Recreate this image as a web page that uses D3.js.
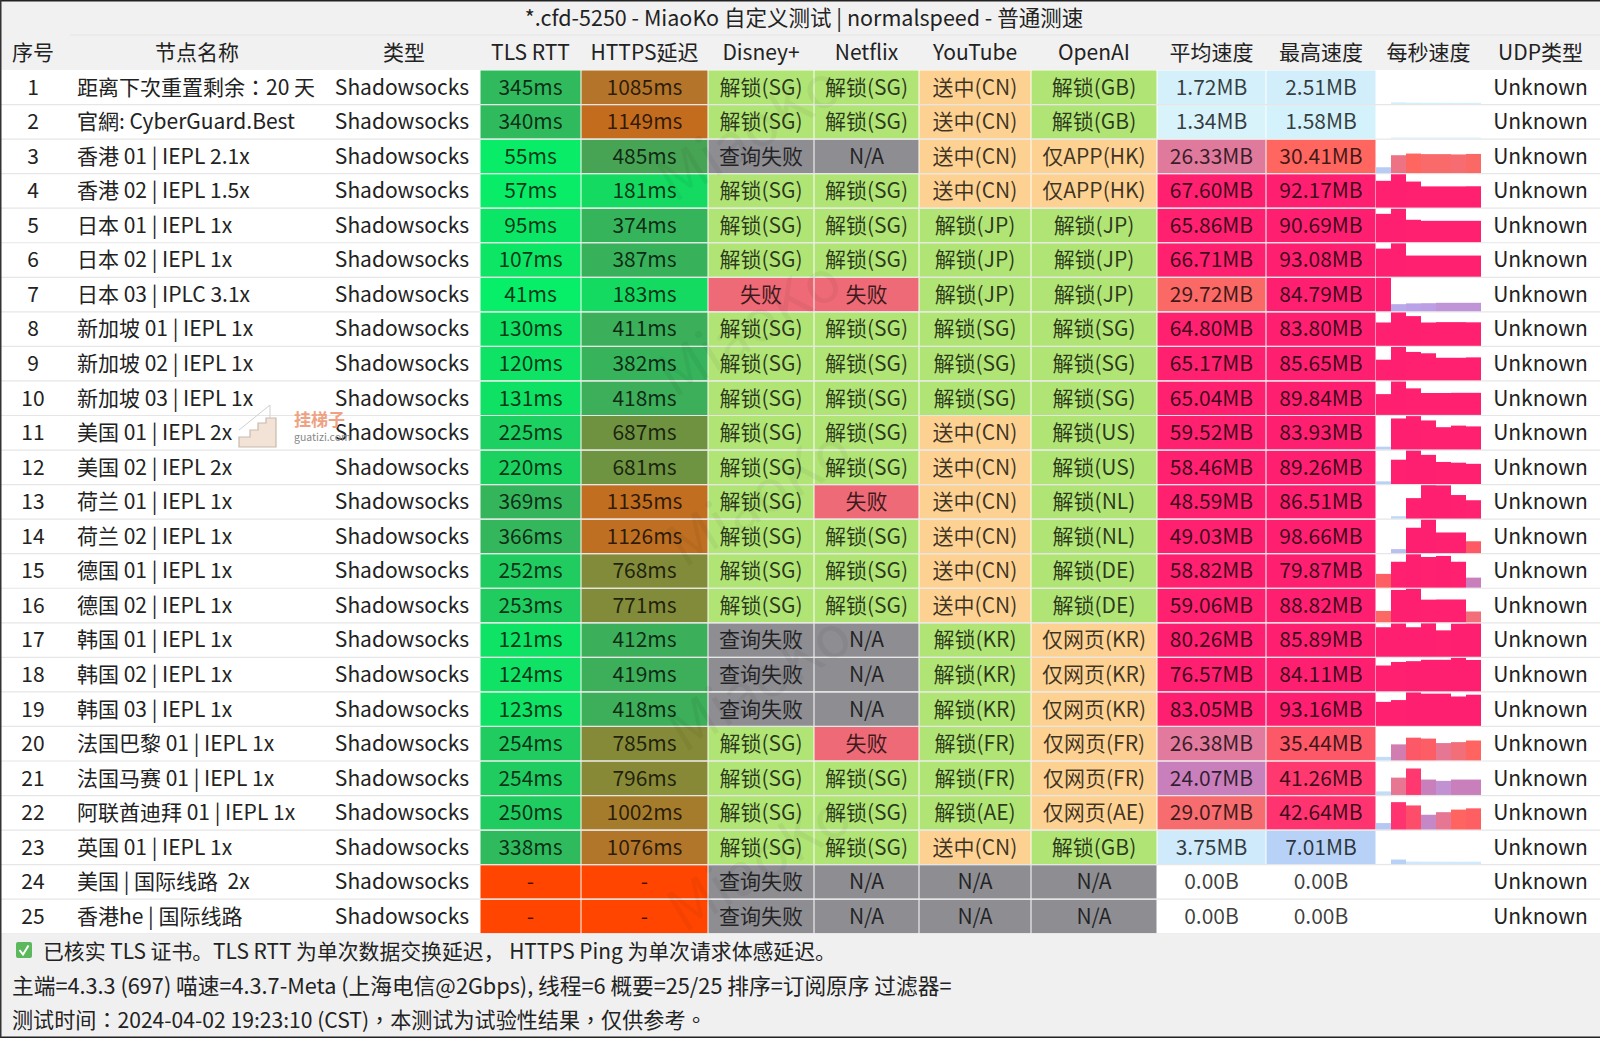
<!DOCTYPE html>
<html>
<head>
<meta charset="utf-8">
<script src="https://cdn.jsdelivr.net/npm/d3@7"></script>
<style>
    html, body { margin: 0; padding: 0; background: #fff; }
    svg { display: block; }
    text { font-family: "Noto Sans CJK SC", "Noto Sans", sans-serif; }
</style>
</head>
<body>
<div id="chart"></div>
<script>
var title = "*.cfd-5250 - MiaoKo 自定义测试 | normalspeed - 普通测速";
var headers = ["序号", "节点名称", "类型", "TLS RTT", "HTTPS延迟", "Disney+", "Netflix", "YouTube", "OpenAI", "平均速度", "最高速度", "每秒速度", "UDP类型"];
var nodeNames = ["距离下次重置剩余：20 天", "官網: CyberGuard.Best", "香港 01 | IEPL 2.1x", "香港 02 | IEPL 1.5x", "日本 01 | IEPL 1x",
    "日本 02 | IEPL 1x", "日本 03 | IPLC 3.1x", "新加坡 01 | IEPL 1x", "新加坡 02 | IEPL 1x", "新加坡 03 | IEPL 1x",
    "美国 01 | IEPL 2x", "美国 02 | IEPL 2x", "荷兰 01 | IEPL 1x", "荷兰 02 | IEPL 1x", "德国 01 | IEPL 1x",
    "德国 02 | IEPL 1x", "韩国 01 | IEPL 1x", "韩国 02 | IEPL 1x", "韩国 03 | IEPL 1x", "法国巴黎 01 | IEPL 1x",
    "法国马赛 01 | IEPL 1x", "阿联酋迪拜 01 | IEPL 1x", "英国 01 | IEPL 1x", "美国 | 国际线路  2x", "香港he | 国际线路"];
var nodeType = "Shadowsocks";
var udpType = "Unknown";
// null = test failed, printed as "-"
var tlsRtt = [345, 340, 55, 57, 95, 107, 41, 130, 120, 131, 225, 220, 369, 366, 252, 253, 121, 124, 123, 254, 254, 250, 338, null, null];
var httpsDelay = [1085, 1149, 485, 181, 374, 387, 183, 411, 382, 418, 687, 681, 1135, 1126, 768, 771, 412, 419, 418, 785, 796, 1002, 1076, null, null];
var disney = ["解锁(SG)", "解锁(SG)", "查询失败", "解锁(SG)", "解锁(SG)", "解锁(SG)", "失败", "解锁(SG)", "解锁(SG)", "解锁(SG)", "解锁(SG)", "解锁(SG)", "解锁(SG)",
    "解锁(SG)", "解锁(SG)", "解锁(SG)", "查询失败", "查询失败", "查询失败", "解锁(SG)", "解锁(SG)", "解锁(SG)", "解锁(SG)", "查询失败", "查询失败"];
var netflix = ["解锁(SG)", "解锁(SG)", "N/A", "解锁(SG)", "解锁(SG)", "解锁(SG)", "失败", "解锁(SG)", "解锁(SG)", "解锁(SG)", "解锁(SG)", "解锁(SG)", "失败",
    "解锁(SG)", "解锁(SG)", "解锁(SG)", "N/A", "N/A", "N/A", "失败", "解锁(SG)", "解锁(SG)", "解锁(SG)", "N/A", "N/A"];
var youtube = ["送中(CN)", "送中(CN)", "送中(CN)", "送中(CN)", "解锁(JP)", "解锁(JP)", "解锁(JP)", "解锁(SG)", "解锁(SG)", "解锁(SG)", "送中(CN)", "送中(CN)", "送中(CN)",
    "送中(CN)", "送中(CN)", "送中(CN)", "解锁(KR)", "解锁(KR)", "解锁(KR)", "解锁(FR)", "解锁(FR)", "解锁(AE)", "送中(CN)", "N/A", "N/A"];
var openai = ["解锁(GB)", "解锁(GB)", "仅APP(HK)", "仅APP(HK)", "解锁(JP)", "解锁(JP)", "解锁(JP)", "解锁(SG)", "解锁(SG)", "解锁(SG)", "解锁(US)", "解锁(US)", "解锁(NL)",
    "解锁(NL)", "解锁(DE)", "解锁(DE)", "仅网页(KR)", "仅网页(KR)", "仅网页(KR)", "仅网页(FR)", "仅网页(FR)", "仅网页(AE)", "解锁(GB)", "N/A", "N/A"];
var avgSpeed = ["1.72MB", "1.34MB", "26.33MB", "67.60MB", "65.86MB", "66.71MB", "29.72MB", "64.80MB", "65.17MB", "65.04MB", "59.52MB", "58.46MB", "48.59MB",
    "49.03MB", "58.82MB", "59.06MB", "80.26MB", "76.57MB", "83.05MB", "26.38MB", "24.07MB", "29.07MB", "3.75MB", "0.00B", "0.00B"];
var maxSpeed = ["2.51MB", "1.58MB", "30.41MB", "92.17MB", "90.69MB", "93.08MB", "84.79MB", "83.80MB", "85.65MB", "89.84MB", "83.93MB", "89.26MB", "86.51MB",
    "98.66MB", "79.87MB", "88.82MB", "85.89MB", "84.11MB", "93.16MB", "35.44MB", "41.26MB", "42.64MB", "7.01MB", "0.00B", "0.00B"];
// per second speed in MB
var perSecond = [
    [0.3, 2.51, 2.0, 1.9, 1.8, 1.7, 1.8],
    [0.3, 1.58, 1.5, 1.5, 1.5, 1.5, 1.5],
    [9, 27.8, 30.41, 29.5, 29.5, 29, 29.8],
    [74, 92.17, 72, 58.6, 58.6, 58.6, 59],
    [77, 90.69, 60.8, 58, 58, 58, 58],
    [78.4, 93.08, 59, 59, 59, 59, 59],
    [84.79, 18, 20, 20.5, 21.5, 21.5, 21.5],
    [58.6, 83.8, 74.6, 58.5, 59.5, 59.5, 59],
    [53, 85.65, 73, 69.5, 58, 58, 59],
    [56, 89.84, 71.5, 59, 59, 59.5, 59.5],
    [7, 78, 83.93, 73, 56, 60, 58],
    [7, 65, 89.26, 78, 59, 57, 54],
    [0, 6, 53, 86.51, 86, 61, 47.5],
    [0, 11.8, 75, 98.66, 61, 61, 35],
    [33, 62, 79.87, 73.5, 76, 62, 24],
    [30, 86, 88.82, 60, 60.5, 60.5, 28.5],
    [76, 85.5, 76, 85.89, 68, 85, 85.5],
    [65, 74, 76, 79.5, 79.5, 84.11, 79],
    [67, 72, 93.16, 90, 90, 82, 87],
    [5.5, 25, 35.44, 34, 27, 28.5, 31],
    [5.5, 27, 41.26, 24, 22, 24, 24],
    [10, 42.64, 37.5, 23, 27, 31, 33],
    [0.5, 7.01, 3.9, 3.8, 3.7, 3.6, 3.7],
    [0, 0, 0, 0, 0, 0, 0],
    [0, 0, 0, 0, 0, 0, 0]
];
var footerLines = ["已核实 TLS 证书。TLS RTT 为单次数据交换延迟， HTTPS Ping 为单次请求体感延迟。",
    "主端=4.3.3 (697) 喵速=4.3.7-Meta (上海电信@2Gbps), 线程=6 概要=25/25 排序=订阅原序 过滤器=",
    "测试时间：2024-04-02 19:23:10 (CST)，本测试为试验性结果，仅供参考。"];

var width = 1600, height = 1038;
var colEdges = [0, 66, 328, 480, 581, 708, 814, 919, 1031, 1157, 1266, 1376, 1481, 1600];
var tableTop = 70, rowH = 34.55, fontSize = 21;

var delayColor = d3.scaleLinear()
    .domain([41, 181, 374, 485, 687, 785, 1002, 1085, 1149])
    .range(["#07ee68", "#14da62", "#35b45c", "#48a455", "#6f9240", "#858a38", "#a57c2c", "#b4752a", "#c46c1e"])
    .clamp(true);
var speedColor = d3.scaleLinear()
    .domain([0, 1.5, 3.75, 7, 20, 24, 26.3, 29, 30.4, 35, 42, 48, 100])
    .range(["#ffffff", "#d4f2fb", "#cfeafb", "#b7d2f6", "#b9a2e8", "#c87fbc", "#e07a9e", "#f66c70", "#ff665f", "#fd5a66", "#ff3570", "#ff2070", "#ff1f70"])
    .clamp(true);
var unlockColor = d3.scaleOrdinal()
    .domain(["解锁", "送中", "仅APP", "仅网页", "失败", "查询失败", "N/A"])
    .range(["#b0e475", "#fdd191", "#fdd191", "#fdd191", "#ee6a76", "#8d8d92", "#8d8d92"]);

var rows = d3.scaleBand().domain(d3.range(nodeNames.length))
    .range([tableTop, tableTop + rowH * nodeNames.length]);
function colX(i) { return colEdges[i]; }
function colW(i) { return colEdges[i + 1] - colEdges[i]; }
function colC(i) { return (colEdges[i] + colEdges[i + 1]) / 2; }
function statusColor(s) { return unlockColor(s.replace(/\(.*\)$/, "")); }
function parseSpeed(s) { return s.indexOf("MB") > 0 ? parseFloat(s) : 0; }

var svg = d3.select("#chart").append("svg").attr("width", width).attr("height", height);
svg.append("rect").attr("width", width).attr("height", height).attr("fill", "#ffffff");

// title + header band
svg.append("rect").attr("width", width).attr("height", tableTop).attr("fill", "#f1f1f1");
svg.append("line").attr("x1", 70).attr("x2", width).attr("y1", 35).attr("y2", 35).attr("stroke", "#e9e9e9").attr("stroke-width", 1.5);
svg.append("text").attr("x", 804).attr("y", 18).attr("dy", "0.35em").attr("text-anchor", "middle")
    .attr("font-size", 21.5).attr("fill", "#222").text(title);
svg.selectAll("text.header").data(headers).enter().append("text").attr("class", "header")
    .attr("x", function(d, i) { return colC(i); }).attr("y", 53).attr("dy", "0.35em")
    .attr("text-anchor", "middle").attr("font-size", fontSize).attr("fill", "#222").text(function(d) { return d; });

// coloured cells, one list per column
var cells = [];
nodeNames.forEach(function(name, r) {
    cells.push({ r: r, c: 3, fill: tlsRtt[r] === null ? "#ff4500" : delayColor(tlsRtt[r]), label: tlsRtt[r] === null ? "-" : tlsRtt[r] + "ms" });
    cells.push({ r: r, c: 4, fill: httpsDelay[r] === null ? "#ff4500" : delayColor(httpsDelay[r]), label: httpsDelay[r] === null ? "-" : httpsDelay[r] + "ms" });
    [disney, netflix, youtube, openai].forEach(function(list, k) {
        cells.push({ r: r, c: 5 + k, fill: statusColor(list[r]), label: list[r] });
    });
    cells.push({ r: r, c: 9, fill: speedColor(parseSpeed(avgSpeed[r])), label: avgSpeed[r] });
    cells.push({ r: r, c: 10, fill: speedColor(parseSpeed(maxSpeed[r])), label: maxSpeed[r] });
});

svg.append("g").selectAll("rect").data(cells).enter().append("rect")
    .attr("x", function(d) { return colX(d.c) + 0.5; })
    .attr("y", function(d) { return rows(d.r) + 0.5; })
    .attr("width", function(d) { return colW(d.c) - 1; })
    .attr("height", rows.bandwidth() - 1)
    .attr("fill", function(d) { return d.fill; });

// row separators on the white columns
svg.append("g").selectAll("line").data(d3.range(1, nodeNames.length + 1)).enter().append("line")
    .attr("x1", 0).attr("x2", width)
    .attr("y1", function(d) { return rows(0) + d * rowH; })
    .attr("y2", function(d) { return rows(0) + d * rowH; })
    .attr("stroke", "#e6e6e6").attr("stroke-width", 1.2);

// watermark, sits between the fills and the labels
var marks = [[760, 150], [760, 345], [770, 515], [770, 700], [770, 880]];
svg.append("g").selectAll("text").data(marks).enter().append("text")
    .attr("transform", function(d) { return "translate(" + d[0] + "," + d[1] + ") rotate(-32)"; })
    .attr("text-anchor", "middle").attr("font-size", 58).attr("fill", "#000").attr("fill-opacity", 0.045)
    .text("MiaoKo");

// per second bars
var barX = d3.scaleBand().domain(d3.range(7)).range([colEdges[11], colEdges[12]]);
var sparks = svg.append("g").selectAll("g").data(perSecond).enter().append("g");
sparks.each(function(vals, r) {
    var barY = d3.scaleLinear().domain([0, Math.max(52, d3.max(vals))]).range([rows(r) + rowH - 0.6, rows(r) + 0.6]);
    d3.select(this).selectAll("rect").data(vals).enter().append("rect")
        .attr("x", function(v, i) { return barX(i); })
        .attr("width", barX.bandwidth())
        .attr("y", function(v) { return barY(v); })
        .attr("height", function(v) { return barY(0) - barY(v); })
        .attr("fill", function(v) { return speedColor(v); });
});

// labels
svg.append("g").selectAll("text").data(cells).enter().append("text")
    .attr("x", function(d) { return colC(d.c); })
    .attr("y", function(d) { return rows(d.r) + rowH / 2; }).attr("dy", "0.35em")
    .attr("text-anchor", "middle").attr("font-size", fontSize).attr("fill", "#000").attr("fill-opacity", 0.76)
    .text(function(d) { return d.label; });

var plain = svg.append("g").attr("font-size", fontSize).attr("fill", "#222");
plain.selectAll("text.seq").data(nodeNames).enter().append("text").attr("class", "seq")
    .attr("x", colC(0)).attr("y", function(d, i) { return rows(i) + rowH / 2; }).attr("dy", "0.35em")
    .attr("text-anchor", "middle").text(function(d, i) { return i + 1; });
plain.selectAll("text.name").data(nodeNames).enter().append("text").attr("class", "name")
    .attr("x", 77).attr("y", function(d, i) { return rows(i) + rowH / 2; }).attr("dy", "0.35em")
    .style("white-space", "pre")
    .style("font-family", function(d, i) { return i === 0 ? '"Noto Sans CJK TC"' : null; }) // centred full width colon
    .text(function(d) { return d; });

// stairs logo over row 11, under the type column text
var logo = svg.append("g");
logo.append("path").attr("d", "M239 447 L239 437 L250 437 L250 430 L258 430 L258 423 L266 423 L266 418 L276 418 L276 447 Z")
    .attr("fill", "#f3e3d6").attr("stroke", "#c9b9ad").attr("stroke-width", 1.2);
logo.append("path").attr("d", "M239 430 L270 405 L270 418").attr("fill", "none").attr("stroke", "#cfcfcf").attr("stroke-width", 1);
logo.append("text").attr("x", 294).attr("y", 426).attr("font-size", 17).attr("font-weight", 700).attr("fill", "#eea283").text("挂梯子");
logo.append("text").attr("x", 294).attr("y", 441).attr("font-size", 10.5).attr("fill", "#888").text("guatizi.com");

plain.selectAll("text.type").data(nodeNames).enter().append("text").attr("class", "type")
    .attr("x", 402).attr("y", function(d, i) { return rows(i) + rowH / 2; }).attr("dy", "0.35em")
    .attr("text-anchor", "middle").text(nodeType);
plain.selectAll("text.udp").data(nodeNames).enter().append("text").attr("class", "udp")
    .attr("x", colC(12)).attr("y", function(d, i) { return rows(i) + rowH / 2; }).attr("dy", "0.35em")
    .attr("text-anchor", "middle").text(udpType);

// footer
var footerTop = rows(0) + rowH * nodeNames.length;
var footerSizes = [20.85, 21.7, 21.1];
svg.append("rect").attr("y", footerTop).attr("width", width).attr("height", height - footerTop).attr("fill", "#f0f0f0");
svg.append("rect").attr("x", 16).attr("y", 942).attr("width", 16).attr("height", 16).attr("rx", 2).attr("fill", "#5cb85c");
svg.append("path").attr("d", "M19.5 950 L23 954.5 L28.5 945.5").attr("fill", "none").attr("stroke", "#fff").attr("stroke-width", 2);
svg.append("g").selectAll("text").data(footerLines).enter().append("text")
    .attr("x", function(d, i) { return i === 0 ? 43 : 12; })
    .attr("y", function(d, i) { return 951.5 + i * 34.5; }).attr("dy", "0.35em")
    .attr("font-size", function(d, i) { return footerSizes[i]; })
    .style("font-family", function(d, i) { return i === 2 ? '"Noto Sans CJK TC"' : null; })
    .attr("fill", "#222").text(function(d) { return d; });

// dark window edge
svg.append("rect").attr("width", width).attr("height", 1.5).attr("fill", "#222");
svg.append("rect").attr("y", height - 1.5).attr("width", width).attr("height", 1.5).attr("fill", "#222");
svg.append("rect").attr("width", 1.5).attr("height", height).attr("fill", "#333");
</script>
</body>
</html>
